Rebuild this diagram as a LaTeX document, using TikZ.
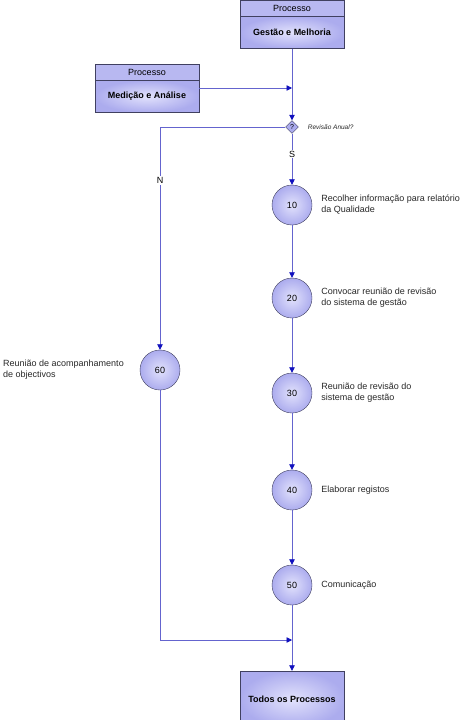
\documentclass[tikz,border=0pt]{standalone}
\usepackage{fontspec}
\setmainfont{Liberation Sans}
\usetikzlibrary{shapes.geometric, arrows.meta, positioning}
\definecolor{procfill}{RGB}{172,172,238}
\definecolor{proclight}{RGB}{226,226,252}
\definecolor{flowline}{RGB}{100,100,206}
\definecolor{tipblue}{RGB}{16,16,190}
\definecolor{edgegray}{RGB}{64,64,96}
\definecolor{txtgray}{RGB}{40,40,40}

\begin{document}
\begin{tikzpicture}[
  x=1pt, y=-1pt,
  prochead/.style={rectangle, draw=edgegray, fill=procfill!85, minimum width=104pt, minimum height=16pt, inner sep=0pt, font=\fontsize{9}{10}\selectfont},
  procbody/.style={rectangle, draw=edgegray, inner color=proclight, outer color=procfill, minimum width=104pt, minimum height=32pt, inner sep=0pt, font=\fontsize{9}{10}\selectfont\bfseries},
  stepcirc/.style={circle, draw=edgegray, inner color=proclight, outer color=procfill, minimum size=40pt, inner sep=0pt, font=\fontsize{9}{10}\selectfont},
  decision/.style={diamond, draw=edgegray, fill=procfill, minimum size=13pt, inner sep=0pt, font=\fontsize{7}{8}\selectfont},
  desc/.style={align=left, inner sep=0pt, text=txtgray, font=\fontsize{9}{11}\selectfont},
  answer/.style={fill=white, inner sep=1pt, font=\fontsize{9}{10}\selectfont},
  arrow/.style={draw=flowline, line width=0.8pt, -{Triangle[length=5.5pt, width=5.5pt, color=tipblue]}}
]
  \fill[white] (0,0) rectangle (470,720);
  \useasboundingbox (0,0) rectangle (470,720);

  \node[prochead] (gmh) at (292,8) {Processo};
  \node[procbody, below=0pt of gmh] (gmb) {Gestão e Melhoria};
  \node[prochead] (medh) at (147,72) {Processo};
  \node[procbody, below=0pt of medh] (medb) {Medição e Análise};

  \node[decision] (q) at (292,127) {?};
  \node[right=9pt of q, inner sep=0pt, text=txtgray, font=\fontsize{6.5}{7}\selectfont\itshape] (qlab) {Revisão Anual?};

  \node[stepcirc] (c10) at (292,205) {10};
  \node[stepcirc] (c20) at (292,298) {20};
  \node[stepcirc] (c30) at (292,393) {30};
  \node[stepcirc] (c40) at (292,490) {40};
  \node[stepcirc] (c50) at (292,585) {50};
  \node[stepcirc] (c60) at (160,370) {60};

  \node[desc, right=9pt of c10] (d10) {Recolher informação para relatório\\da Qualidade};
  \node[desc, right=9pt of c20] (d20) {Convocar reunião de revisão\\do sistema de gestão};
  \node[desc, right=9pt of c30] (d30) {Reunião de revisão do\\sistema de gestão};
  \node[desc, right=9pt of c40] (d40) {Elaborar registos};
  \node[desc, right=9pt of c50] (d50) {Comunicação};
  \node[desc, anchor=west] (d60) at (3,370) {Reunião de acompanhamento\\de objectivos};

  \node[procbody, minimum height=56pt] (todos) at (292,699) {Todos os Processos};

  \coordinate (medjoin) at (292,88);
  \coordinate (endjoin) at (292,640);

  \draw[arrow] (gmb) -- (q);
  \draw[arrow] (medb.east |- medjoin) -- (medjoin);
  \draw[arrow] (q) -- node[answer, pos=0.4] (s) {S} (c10);
  \draw[arrow] (q.west) -| node[answer, pos=0.62] (n) {N} (c60);
  \draw[arrow] (c10) -- (c20);
  \draw[arrow] (c20) -- (c30);
  \draw[arrow] (c30) -- (c40);
  \draw[arrow] (c40) -- (c50);
  \draw[arrow] (c50) -- (todos);
  \draw[arrow] (c60) |- (endjoin);
\end{tikzpicture}
\end{document}
